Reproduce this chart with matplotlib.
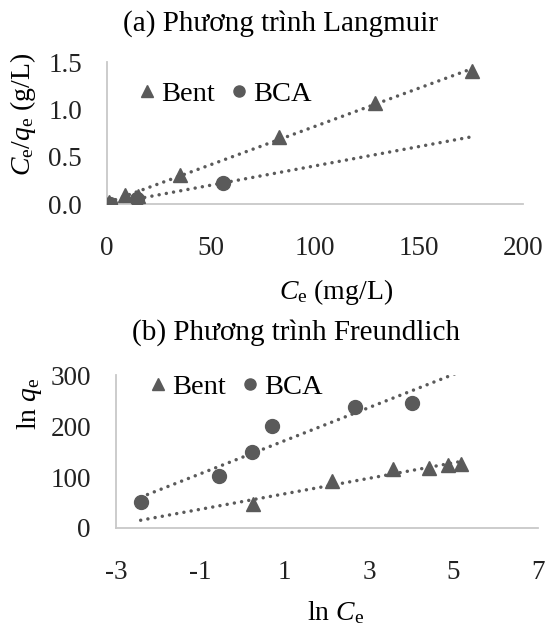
import numpy as np
import matplotlib
matplotlib.use("Agg")
import matplotlib.pyplot as plt

plt.rcParams['font.family'] = ['Liberation Serif', 'DejaVu Serif']
plt.rcParams['mathtext.fontset'] = 'custom'
plt.rcParams['mathtext.rm'] = 'Liberation Serif'
plt.rcParams['mathtext.it'] = 'Liberation Serif:italic'
plt.rcParams['axes.unicode_minus'] = False

# ---- (a) Langmuir ----
lang_bent_x = [0.8, 8.7, 14.7, 35, 82.7, 128.8, 175.6]
lang_bent_y = [0.02, 0.095, 0.09, 0.306, 0.71, 1.063, 1.41]
lang_bca_x = [1.4, 14.5, 56]
lang_bca_y = [0.005, 0.05, 0.225]
lang_xticks = [0, 50, 100, 150, 200]
lang_yticks = [0.0, 0.5, 1.0, 1.5]
lang_yticklabels = ['0.0', '0.5', '1.0', '1.5']

# ---- (b) Freundlich ----
fr_bent_x = [0.24, 2.11, 3.57, 4.42, 4.86, 5.18]
fr_bent_y = [48, 92, 115, 118, 123, 125]
fr_bca_x = [-2.415, -0.56, 0.215, 0.69, 2.66, 4.02]
fr_bca_y = [50, 101, 149.5, 199.5, 237, 246]
fr_xticks = [-3, -1, 1, 3, 5, 7]
fr_yticks = [0, 100, 200, 300]

gray = '#5a5a5a'
spine = '#c8c8c8'

fig = plt.figure(figsize=(5.56, 6.27), dpi=100)
ax1 = fig.add_axes([0.1925, 0.6746, 0.748, 0.2265])
ax2 = fig.add_axes([0.2086, 0.1579, 0.759, 0.244])


def trend(ax, xs, ys, xr):
    k, b = np.polyfit(xs, ys, 1)
    xx = np.array(xr)
    ax.plot(xx, k * xx + b, color=gray, lw=2.5, linestyle=(0, (0.01, 2.1)),
            dash_capstyle='round', zorder=2)


def style(ax):
    for s in ['top', 'right']:
        ax.spines[s].set_visible(False)
    for s in ['left', 'bottom']:
        ax.spines[s].set_color(spine)
        ax.spines[s].set_linewidth(1.3)
    ax.tick_params(length=0, labelsize=19.5, colors='#222222')
    ax.tick_params(axis='x', pad=23)
    ax.tick_params(axis='y', pad=18)


# Panel (a)
allx = lang_bent_x + lang_bca_x
xr = [min(allx), max(allx)]
trend(ax1, lang_bent_x, lang_bent_y, xr)
trend(ax1, lang_bca_x, lang_bca_y, xr)
ax1.plot(lang_bent_x, lang_bent_y, '^', color=gray, ms=10.5, ls='none', label='Bent', zorder=3)
ax1.plot(lang_bca_x, lang_bca_y, 'o', color=gray, ms=10, ls='none', label='BCA', zorder=3)
ax1.set_xlim(0, 200)
ax1.set_ylim(0, 1.5)
ax1.set_xticks(lang_xticks)
ax1.set_yticks(lang_yticks)
ax1.set_yticklabels(lang_yticklabels)
style(ax1)
ax1.set_xlabel(r'$C_{\mathrm{e}}$ (mg/L)', fontsize=20)
ax1.xaxis.set_label_coords(0.55, -0.515)
ax1.set_ylabel(r'$C_{\mathrm{e}}/q_{\mathrm{e}}$ (g/L)', fontsize=20)
ax1.yaxis.set_label_coords(-0.165, 0.63)
ax1.legend(loc='upper left', bbox_to_anchor=(0.02, 0.985), ncol=2, frameon=False,
           fontsize=20.5, handletextpad=0.0, columnspacing=0.35, handlelength=1.0,
           markerscale=0.8, borderaxespad=0.2)
fig.text(0.505, 0.963, '(a) Phương trình Langmuir', ha='center', va='center', fontsize=21)

# Panel (b)
allx2 = fr_bent_x + fr_bca_x
xr2 = [min(allx2), max(allx2)]
trend(ax2, fr_bent_x, fr_bent_y, xr2)
trend(ax2, fr_bca_x, fr_bca_y, xr2)
ax2.plot(fr_bent_x, fr_bent_y, '^', color=gray, ms=10.5, ls='none', label='Bent', zorder=3)
ax2.plot(fr_bca_x, fr_bca_y, 'o', color=gray, ms=10, ls='none', label='BCA', zorder=3)
ax2.set_xlim(-3, 7)
ax2.set_ylim(0, 300)
ax2.set_xticks(fr_xticks)
ax2.set_yticks(fr_yticks)
style(ax2)
ax2.set_xlabel(r'ln $C_{\mathrm{e}}$', fontsize=20)
ax2.xaxis.set_label_coords(0.52, -0.465)
ax2.set_ylabel(r'ln $q_{\mathrm{e}}$', fontsize=20)
ax2.yaxis.set_label_coords(-0.17, 0.81)
ax2.legend(loc='upper left', bbox_to_anchor=(0.025, 1.115), ncol=2, frameon=False,
           fontsize=20.5, handletextpad=0.0, columnspacing=0.35, handlelength=1.0,
           markerscale=0.8, borderaxespad=0.2)
fig.text(0.532, 0.469, '(b) Phương trình Freundlich', ha='center', va='center', fontsize=21)

fig.savefig('out.png', dpi=100)
